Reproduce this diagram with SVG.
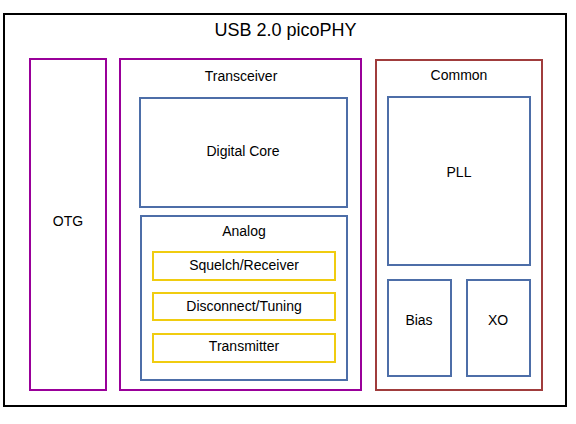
<svg xmlns="http://www.w3.org/2000/svg" width="576" height="424" viewBox="0 0 576 424">
<style>
text{font-family:"Liberation Sans",Arial,sans-serif;font-size:14px;fill:#000;text-anchor:middle}
.t{font-size:18px}
rect{fill:none;stroke-width:2}
.k{stroke:#000}
.p{stroke:#990099}
.b{stroke:#4d6ea8}
.y{stroke:#f0cc10}
.r{stroke:#a03c3c}
</style>
<rect width="576" height="424" style="fill:#fff;stroke:none"/>
<g id="outer"><rect class="k" x="4" y="14" width="562" height="392"/><text class="t" x="285.5" y="36">USB 2.0 picoPHY</text></g>
<g id="otg"><rect class="p" x="30" y="59" width="76" height="331"/><text x="68" y="226">OTG</text></g>
<g id="transceiver"><rect class="p" x="120" y="59" width="241" height="331"/><text x="241" y="81">Transceiver</text></g>
<g id="digital"><rect class="b" x="140" y="98" width="207" height="109"/><text x="243" y="156">Digital Core</text></g>
<g id="analog"><rect class="b" x="141" y="216" width="206" height="164"/><text x="244" y="236">Analog</text></g>
<g id="squelch"><rect class="y" x="153" y="252" width="182" height="28"/><text x="244" y="270">Squelch/Receiver</text></g>
<g id="disconnect"><rect class="y" x="153" y="293" width="182" height="27"/><text x="244" y="311">Disconnect/Tuning</text></g>
<g id="transmitter"><rect class="y" x="153" y="334" width="182" height="28"/><text x="244" y="351">Transmitter</text></g>
<g id="common"><rect class="r" x="376" y="60" width="166" height="330"/><text x="459" y="80">Common</text></g>
<g id="pll"><rect class="b" x="388" y="97" width="142" height="168"/><text x="459" y="177">PLL</text></g>
<g id="bias"><rect class="b" x="388" y="280" width="63" height="96"/><text x="419" y="325">Bias</text></g>
<g id="xo"><rect class="b" x="467" y="280" width="63" height="96"/><text x="498" y="325">XO</text></g>
<g id="connectors"/>
</svg>
